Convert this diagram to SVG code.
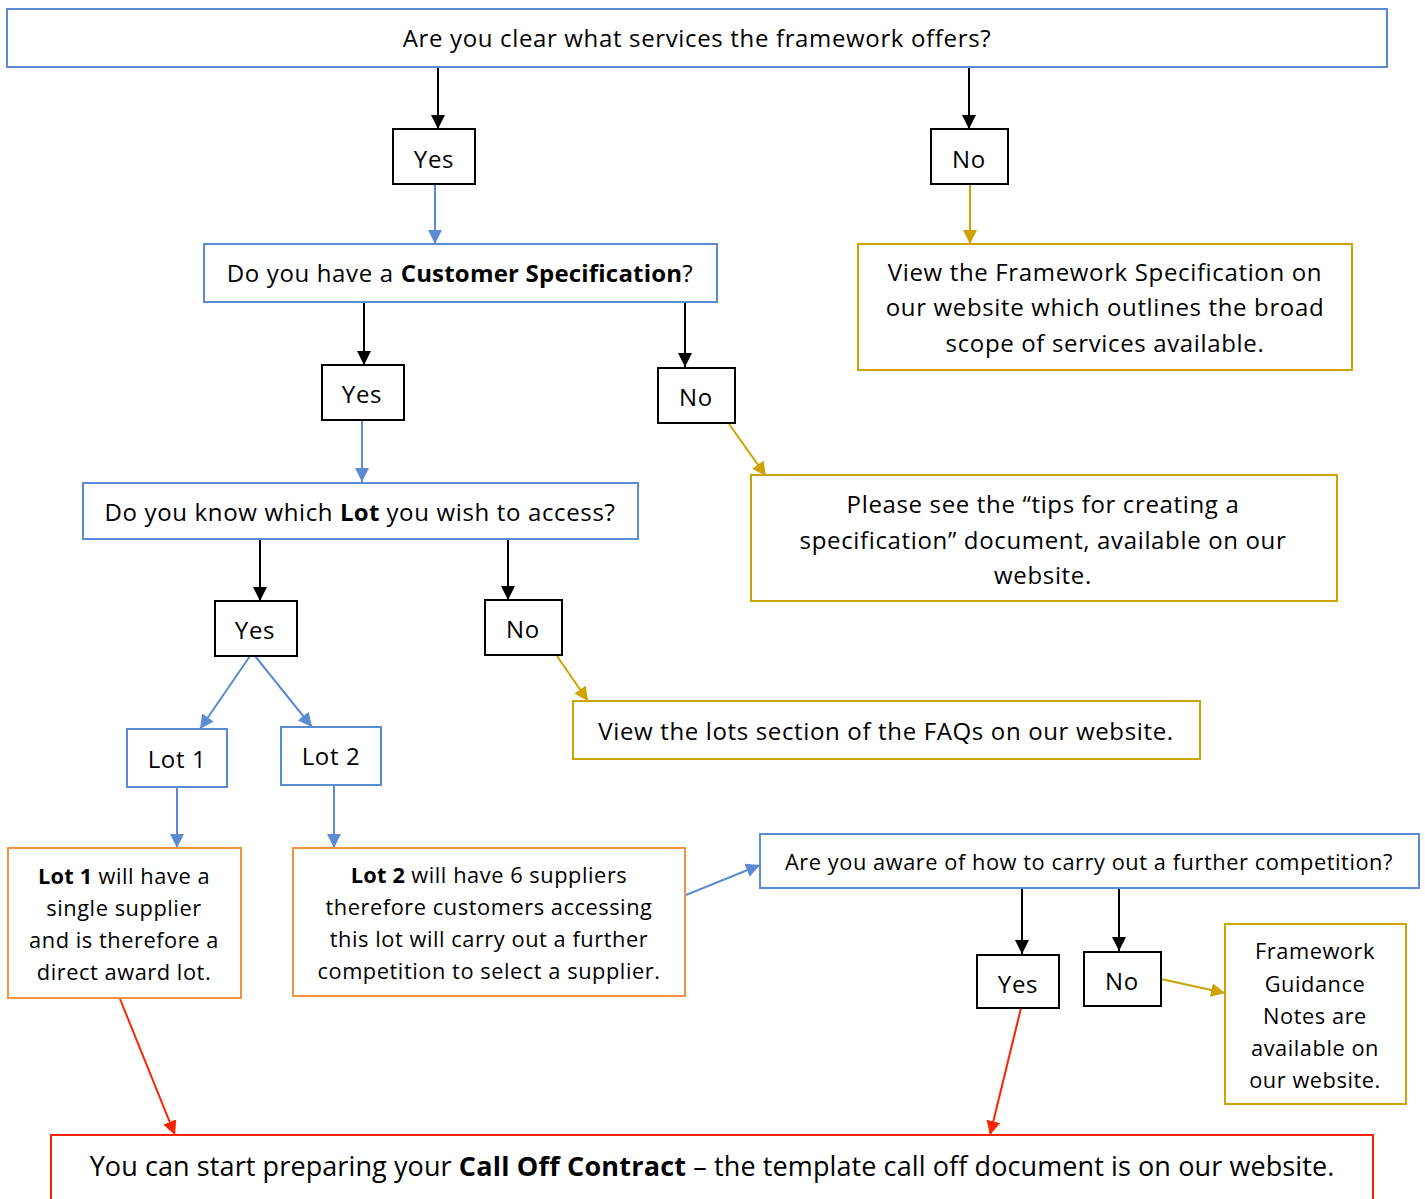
<svg xmlns="http://www.w3.org/2000/svg" width="1425" height="1199" viewBox="0 0 1425 1199">
<defs>
<style>
text{font-family:"Open Sans","Noto Sans","DejaVu Sans",sans-serif;font-size:24px;letter-spacing:0.65px;fill:#000;text-anchor:middle}
text.s{font-size:21.8px;letter-spacing:0.55px}
.b{font-weight:bold;letter-spacing:0.2px}
rect{fill:#fff;stroke-width:2}
.blue{stroke:#5B8BD2}
.gold{stroke:#CCA300}
.org{stroke:#F59340}
.red{stroke:#FF2200}
.blk{stroke:#000}
.cb{stroke:#5B8BD2;stroke-width:2;fill:none}
.cg{stroke:#CCA300;stroke-width:2;fill:none}
.ck{stroke:#000;stroke-width:2;fill:none}
.cr{stroke:#FF2200;stroke-width:2;fill:none}
</style>
<marker id="mk" viewBox="0 0 10 10" refX="10" refY="5" markerWidth="7" markerHeight="7" orient="auto" markerUnits="strokeWidth"><path d="M0,0L10,5L0,10z" fill="#000"/></marker>
<marker id="mb" viewBox="0 0 10 10" refX="10" refY="5" markerWidth="7" markerHeight="7" orient="auto" markerUnits="strokeWidth"><path d="M0,0L10,5L0,10z" fill="#5B8BD2"/></marker>
<marker id="mg" viewBox="0 0 10 10" refX="10" refY="5" markerWidth="7" markerHeight="7" orient="auto" markerUnits="strokeWidth"><path d="M0,0L10,5L0,10z" fill="#CCA300"/></marker>
<marker id="mr" viewBox="0 0 10 10" refX="10" refY="5" markerWidth="7" markerHeight="7" orient="auto" markerUnits="strokeWidth"><path d="M0,0L10,5L0,10z" fill="#FF2200"/></marker>
</defs>
<rect x="0" y="0" width="1425" height="1199" style="fill:#fff;stroke:none"/>

<g id="connectors">
<line class="ck" x1="438" y1="67" x2="438" y2="129" marker-end="url(#mk)"/>
<line class="cb" x1="435" y1="184" x2="435" y2="244" marker-end="url(#mb)"/>
<line class="ck" x1="969" y1="67" x2="969" y2="129" marker-end="url(#mk)"/>
<line class="cg" x1="970" y1="184" x2="970" y2="244" marker-end="url(#mg)"/>
<line class="ck" x1="364" y1="302" x2="364" y2="365" marker-end="url(#mk)"/>
<line class="cb" x1="362" y1="420" x2="362" y2="482" marker-end="url(#mb)"/>
<line class="ck" x1="685" y1="302" x2="685" y2="367" marker-end="url(#mk)"/>
<line class="cg" x1="729" y1="424" x2="766" y2="476" marker-end="url(#mg)"/>
<line class="ck" x1="260" y1="539" x2="260" y2="601" marker-end="url(#mk)"/>
<line class="ck" x1="508" y1="539" x2="508" y2="600" marker-end="url(#mk)"/>
<line class="cg" x1="557" y1="656" x2="588" y2="701" marker-end="url(#mg)"/>
<line class="cb" x1="250" y1="656" x2="200" y2="729" marker-end="url(#mb)"/>
<line class="cb" x1="255" y1="656" x2="312" y2="727" marker-end="url(#mb)"/>
<line class="cb" x1="177" y1="787" x2="177" y2="848" marker-end="url(#mb)"/>
<line class="cb" x1="334" y1="785" x2="334" y2="848" marker-end="url(#mb)"/>
<line class="cb" x1="686" y1="895" x2="760" y2="865" marker-end="url(#mb)"/>
<line class="ck" x1="1022" y1="888" x2="1022" y2="954" marker-end="url(#mk)"/>
<line class="ck" x1="1119" y1="888" x2="1119" y2="951" marker-end="url(#mk)"/>
<line class="cg" x1="1161" y1="979" x2="1225" y2="993" marker-end="url(#mg)"/>
<line class="cr" x1="120" y1="999" x2="175" y2="1135" marker-end="url(#mr)"/>
<line class="cr" x1="1021" y1="1008" x2="990" y2="1135" marker-end="url(#mr)"/>
</g>

<g id="q1"><rect class="blue" x="7" y="9" width="1380" height="58"/><text x="697" y="47">Are you clear what services the framework offers?</text></g>
<g id="yes1"><rect class="blk" x="393" y="129" width="82" height="55"/><text x="434" y="168">Yes</text></g>
<g id="no1"><rect class="blk" x="931" y="129" width="77" height="55"/><text x="969" y="168">No</text></g>
<g id="info1"><rect class="gold" x="858" y="244" width="494" height="126"/>
<text x="1105" y="281">View the Framework Specification on</text>
<text x="1105" y="316">our website which outlines the broad</text>
<text x="1105" y="352">scope of services available.</text></g>
<g id="q2"><rect class="blue" x="204" y="244" width="513" height="58"/><text x="460" y="282">Do you have a <tspan class="b">Customer Specification</tspan>?</text></g>
<g id="yes2"><rect class="blk" x="322" y="365" width="82" height="55"/><text x="362" y="403">Yes</text></g>
<g id="no2"><rect class="blk" x="658" y="368" width="77" height="55"/><text x="696" y="406">No</text></g>
<g id="info2"><rect class="gold" x="751" y="475" width="586" height="126"/>
<text x="1043" y="513">Please see the “tips for creating a</text>
<text x="1043" y="549">specification” document, available on our</text>
<text x="1043" y="584">website.</text></g>
<g id="q3"><rect class="blue" x="83" y="483" width="555" height="56"/><text x="360" y="521">Do you know which <tspan class="b">Lot</tspan> you wish to access?</text></g>
<g id="yes3"><rect class="blk" x="215" y="601" width="82" height="55"/><text x="255" y="639">Yes</text></g>
<g id="no3"><rect class="blk" x="485" y="600" width="77" height="55"/><text x="523" y="638">No</text></g>
<g id="info3"><rect class="gold" x="573" y="701" width="627" height="58"/><text x="886" y="740">View the lots section of the FAQs on our website.</text></g>
<g id="lot1"><rect class="blue" x="127" y="729" width="100" height="58"/><text x="177" y="768">Lot 1</text></g>
<g id="lot2"><rect class="blue" x="281" y="727" width="100" height="58"/><text x="331" y="765">Lot 2</text></g>
<g id="lot1info"><rect class="org" x="8" y="848" width="233" height="150"/>
<text class="s" x="124" y="884"><tspan class="b">Lot 1</tspan> will have a</text>
<text class="s" x="124" y="916">single supplier</text>
<text class="s" x="124" y="948">and is therefore a</text>
<text class="s" x="124" y="980">direct award lot.</text></g>
<g id="lot2info"><rect class="org" x="293" y="848" width="392" height="148"/>
<text class="s" x="489" y="883"><tspan class="b">Lot 2</tspan> will have 6 suppliers</text>
<text class="s" x="489" y="915">therefore customers accessing</text>
<text class="s" x="489" y="947">this lot will carry out a further</text>
<text class="s" x="489" y="979">competition to select a supplier.</text></g>
<g id="q4"><rect class="blue" x="760" y="834" width="659" height="54"/><text class="s" x="1089" y="870">Are you aware of how to carry out a further competition?</text></g>
<g id="yes4"><rect class="blk" x="977" y="955" width="82" height="53"/><text x="1018" y="993">Yes</text></g>
<g id="no4"><rect class="blk" x="1084" y="952" width="77" height="54"/><text x="1122" y="990">No</text></g>
<g id="info4"><rect class="gold" x="1225" y="924" width="181" height="180"/>
<text class="s" x="1315" y="959">Framework</text>
<text class="s" x="1315" y="992">Guidance</text>
<text class="s" x="1315" y="1024">Notes are</text>
<text class="s" x="1315" y="1056">available on</text>
<text class="s" x="1315" y="1088">our website.</text></g>
<g id="final"><rect class="red" x="51" y="1135" width="1322" height="80"/><text x="712" y="1176" style="font-size:27px;letter-spacing:0.1px">You can start preparing your <tspan class="b">Call Off Contract</tspan> – the template call off document is on our website.</text></g>
</svg>
